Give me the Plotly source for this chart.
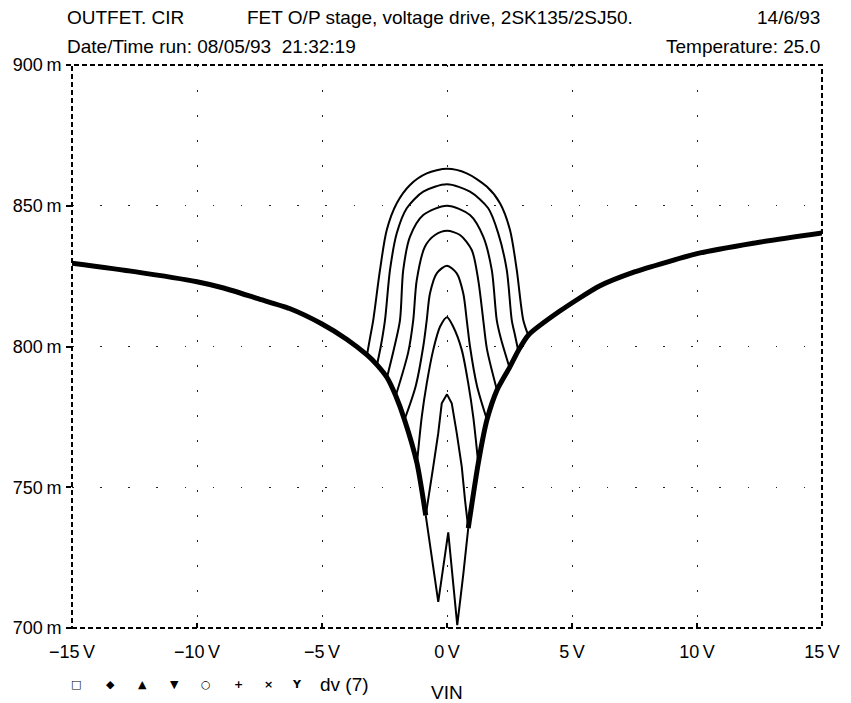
import plotly.graph_objects as go

# ---- data (VIN in volts, dv(7) in mV) ----
env_left_v = [-15, -12.5, -10, -8.9, -7.6, -6.3, -5, -4, -3.2, -2.8, -2.4, -2.05, -1.7, -1.2, -0.85]
env_left_mv = [829.6, 826.6, 823, 820.7, 817.1, 813.5, 808, 802.5, 797, 793.5, 789, 782.5, 774, 758.5, 740]
env_right_v = [0.85, 1.25, 1.6, 2.0, 2.5, 2.85, 3.25, 4.5, 6.1, 7.5, 8.8, 10, 12.25, 15]
env_right_mv = [735.5, 758.5, 774, 784.5, 792.5, 798.5, 804, 812.5, 821.5, 826.5, 830, 833, 836.7, 840.3]

c1_v = [-3.2, -3.08, -2.95, -2.68, -2.41, -2.01, -1.48, -0.81, 0, 0.79, 1.59, 2.12, 2.52, 2.79, 3.05, 3.25]
c1_mv = [797, 803, 809.4, 827.2, 841.4, 850.9, 857.4, 861.5, 863.1, 861.5, 856.8, 850.9, 841.4, 827.2, 809.4, 804]
c2_v = [-2.8, -2.65, -2.48, -2.28, -2.01, -1.61, -0.95, 0, 0.92, 1.65, 2.05, 2.39, 2.59, 2.72, 2.85]
c2_mv = [793.5, 800, 809.4, 827.2, 840.2, 849.1, 855, 857.6, 855, 849.1, 840.2, 827.2, 809.4, 804, 798.5]
c3_v = [-2.4, -2.1, -1.88, -1.75, -1.48, -0.95, 0, 0.92, 1.45, 1.79, 1.99, 2.15, 2.5]
c3_mv = [789, 800, 809.4, 827.2, 839, 846.7, 850, 846.7, 839, 827.2, 809.4, 803, 792.5]
c4_v = [-2.05, -1.55, -1.35, -1.21, -0.88, -0.48, 0, 0.52, 0.99, 1.25, 1.45, 1.6, 2.0]
c4_mv = [782.5, 798, 809.4, 823.6, 835.5, 839.6, 841.1, 839.6, 834.3, 823.6, 809.4, 799, 784.5]
c5_v = [-1.7, -1.25, -0.95, -0.81, -0.68, -0.41, 0, 0.39, 0.65, 0.79, 0.92, 1.2, 1.6]
c5_mv = [774, 786, 800, 809.4, 818.9, 826, 828.7, 826, 818.9, 809.4, 800, 786, 774]
c6_v = [-1.2, -1.01, -0.81, -0.55, -0.28, 0, 0.25, 0.59, 0.85, 1.05, 1.25]
c6_mv = [758.5, 775, 786.9, 798.8, 807, 810.4, 807, 798.8, 786.9, 775, 758.5]
c7_v = [-0.85, -0.68, -0.55, -0.35, -0.21, 0, 0.19, 0.39, 0.59, 0.72, 0.85]
c7_mv = [740, 749, 757.3, 769.2, 779.8, 783, 779.8, 769.2, 757.3, 745.5, 735.5]
c8_v = [-0.85, -0.6, -0.35, 0.05, 0.41, 0.65, 0.85]
c8_mv = [740, 724, 709.3, 734, 701, 719, 735.5]

x_ticks = [-15, -10, -5, 0, 5, 10, 15]
x_ticktext = ["\u221215\u2009V", "\u221210\u2009V", "\u22125\u2009V", "0\u2009V", "5\u2009V", "10\u2009V", "15\u2009V"]
y_ticks = [700, 750, 800, 850, 900]
y_ticktext = ["700\u2009m", "750\u2009m", "800\u2009m", "850\u2009m", "900\u2009m"]

trace_symbols = ["\u25a1", "\u25c6", "\u25b2", "\u25bc", "\u25cb", "+", "\u00d7", "Y"]

FONT = "Liberation Sans, Arial, sans-serif"

fig = go.Figure()

# shared envelope (all 8 traces overlap here, so it is drawn heavy)
for vv, mm in [(env_left_v, env_left_mv), (env_right_v, env_right_mv)]:
    fig.add_trace(go.Scatter(x=vv, y=mm, mode="lines",
                             line=dict(color="black", width=5, shape="spline", smoothing=0.6),
                             showlegend=False, hoverinfo="skip"))

humps = [(c1_v, c1_mv), (c2_v, c2_mv), (c3_v, c3_mv), (c4_v, c4_mv),
         (c5_v, c5_mv), (c6_v, c6_mv), (c7_v, c7_mv), (c8_v, c8_mv)]
for i, (vv, mm) in enumerate(humps):
    shape = "spline" if i < 6 else "linear"
    fig.add_trace(go.Scatter(x=vv, y=mm, mode="lines",
                             line=dict(color="black", width=2, shape=shape, smoothing=0.8),
                             showlegend=False))

fig.update_xaxes(range=[-15, 15], tickvals=x_ticks, ticktext=x_ticktext,
                 showgrid=True, gridcolor="#222", gridwidth=1.3, griddash="1.5px,23.5px",
                 zeroline=False, showline=False, ticks="inside", ticklen=5, tickwidth=1.5,
                 tickcolor="black", ticklabelstandoff=11, automargin=False,
                 tickfont=dict(family=FONT, size=18, color="black"))
fig.update_yaxes(range=[700, 900], tickvals=y_ticks, ticktext=y_ticktext,
                 showgrid=True, gridcolor="#222", gridwidth=1.3, griddash="1.5px,26.65px",
                 zeroline=False, showline=False, ticks="outside", ticklen=5, tickwidth=1.5,
                 tickcolor="black", ticklabelstandoff=1, automargin=False,
                 tickfont=dict(family=FONT, size=18, color="black"))

# dashed plot frame
fig.add_shape(type="rect", xref="paper", yref="paper", x0=0, x1=1, y0=0, y1=1,
              line=dict(color="black", width=2, dash="5px,3px"))

hdr = dict(family=FONT, size=19, color="black")
ann = [
    dict(text="OUTFET. CIR", x=-0.0093, y=1.0835, xanchor="left"),
    dict(text="FET O/P stage, voltage drive, 2SK135/2SJ50.", x=0.2307, y=1.0835, xanchor="left"),
    dict(text="14/6/93", x=1.0, y=1.0835, xanchor="right"),
    dict(text="Date/Time run: 08/05/93\u00a0\u00a021:32:19", x=-0.0093, y=1.032, xanchor="left"),
    dict(text="Temperature: 25.0", x=1.0, y=1.032, xanchor="right"),
    dict(text="dv (7)", x=(318 - 72) / 750, y=-0.0995, xanchor="left"),
    dict(text="VIN", x=0.5, y=-0.1137, xanchor="center"),
]
for a in ann:
    fig.add_annotation(xref="paper", yref="paper", yanchor="middle", showarrow=False,
                       font=hdr, **a)

sym_px = [76, 110, 142, 174, 206, 238, 268, 297]
for s, px in zip(trace_symbols, sym_px):
    fig.add_annotation(text="<b>" + s + "</b>", xref="paper", yref="paper",
                       x=(px - 72) / 750, y=-0.0995,
                       xanchor="center", yanchor="middle", showarrow=False,
                       font=dict(family="DejaVu Sans", size=11, color="black"))

# page body adds an 8px offset, so the figure is drawn 8px smaller on each side
fig.update_layout(width=843, height=695, margin=dict(l=64, r=29, t=57, b=75),
                  plot_bgcolor="white", paper_bgcolor="white")

fig.write_html("out.html")
